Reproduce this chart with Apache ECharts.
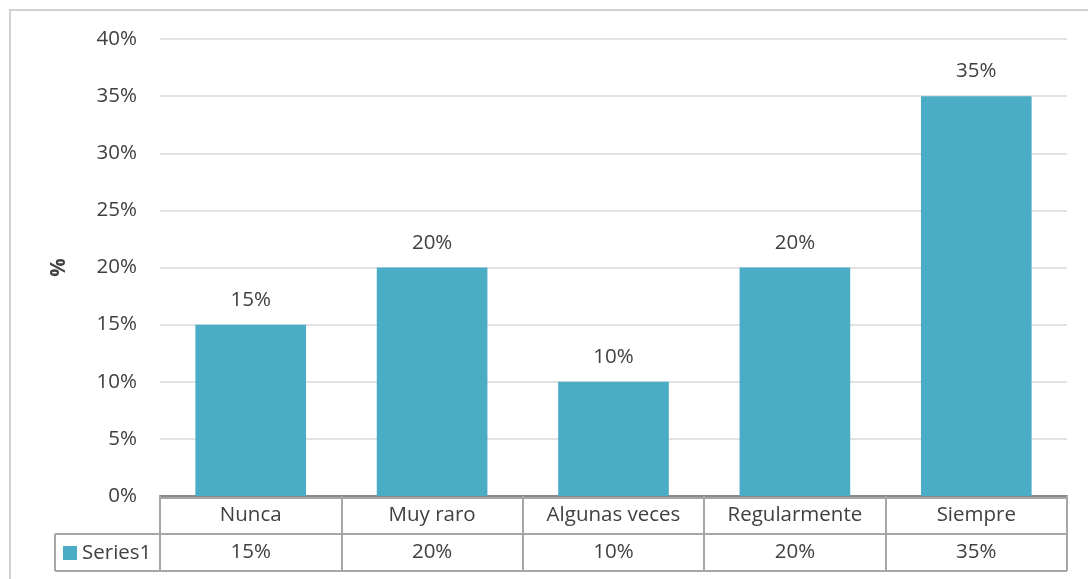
<!DOCTYPE html>
<html><head><meta charset="utf-8">
<script src="https://cdn.jsdelivr.net/npm/echarts@6/dist/echarts.min.js"></script>
<style>html,body{margin:0;padding:0;background:#fff}#c{width:1088px;height:579px}</style>
</head><body><div id="c"></div>
<script>
const categories = ['Nunca', 'Muy raro', 'Algunas veces', 'Regularmente', 'Siempre'];
const values = [15, 20, 10, 20, 35];
const seriesName = 'Series1';
const yTicks = [0, 5, 10, 15, 20, 25, 30, 35, 40];

const W = 1088, H = 579;
const gridL = 160, gridR = 1067, gridT = 39, gridB = 496;
const rowMid = 534, rowBot = 571, tableL = 55;
const textColor = '#404040', lineColor = '#a6a6a6', barColor = '#4BACC6';
const font = '"Open Sans", sans-serif';
const fs = 20.5;

const chart = echarts.init(document.getElementById('c'), null, {renderer: 'canvas'});
chart.setOption({
  animation: false,
  backgroundColor: '#fff',
  grid: {left: gridL, right: W - gridR, top: gridT, bottom: H - gridB, containLabel: false},
  xAxis: {
    type: 'category',
    data: categories,
    axisLine: {show: true, lineStyle: {color: '#898989', width: 2}},
    axisTick: {show: true, alignWithLabel: false, interval: 0, length: rowBot - gridB, lineStyle: {color: lineColor, width: 2}},
    axisLabel: {
      interval: 0, margin: 1,
      color: textColor, fontFamily: font, fontSize: fs, lineHeight: 37,
      formatter: (v, i) => v + '\n' + values[i] + '%'
    },
    splitLine: {show: false}
  },
  yAxis: {
    type: 'value', min: 0, max: 40, interval: 5,
    name: '%', nameLocation: 'middle', nameGap: 90, nameRotate: 90,
    nameTextStyle: {color: textColor, fontFamily: font, fontSize: fs, fontWeight: 'bold'},
    axisLine: {show: false}, axisTick: {show: false},
    axisLabel: {color: textColor, fontFamily: font, fontSize: fs, margin: 23, formatter: '{value}%'},
    splitLine: {lineStyle: {color: '#d9d9d9', width: 1.5}}
  },
  series: [{
    name: seriesName,
    type: 'bar',
    data: values,
    barCategoryGap: '39%',
    itemStyle: {color: barColor},
    label: {show: true, position: 'top', distance: 14, color: textColor, fontFamily: font, fontSize: fs, formatter: '{c}%'}
  }],
  graphic: [
    {type: 'rect', shape: {x: 10, y: 10, width: 1200, height: 700}, style: {fill: 'none', stroke: '#d0d0d0', lineWidth: 2}, z: 100},
    {type: 'line', shape: {x1: gridL, y1: gridB + 2, x2: gridR, y2: gridB + 2}, style: {stroke: lineColor, lineWidth: 2}, z: 100},
    {type: 'line', shape: {x1: tableL, y1: rowMid, x2: gridR, y2: rowMid}, style: {stroke: lineColor, lineWidth: 2}, z: 100},
    {type: 'line', shape: {x1: tableL, y1: rowBot, x2: gridR, y2: rowBot}, style: {stroke: lineColor, lineWidth: 2}, z: 100},
    {type: 'line', shape: {x1: tableL, y1: rowMid, x2: tableL, y2: rowBot}, style: {stroke: lineColor, lineWidth: 2}, z: 100},
    {type: 'rect', shape: {x: 63, y: 546, width: 14, height: 14}, style: {fill: barColor}, z: 100},
    {type: 'text', x: 82, y: (rowMid + rowBot) / 2 + 1, style: {text: seriesName, fill: textColor, font: fs + 'px ' + font, verticalAlign: 'middle', textAlign: 'left'}, z: 100}
  ]
});
</script></body></html>
